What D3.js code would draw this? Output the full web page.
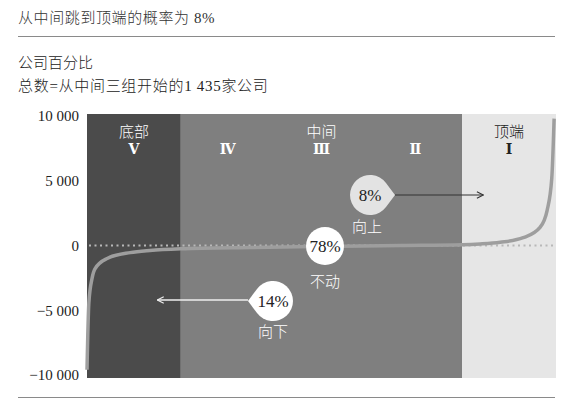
<!DOCTYPE html>
<html><head><meta charset="utf-8">
<script src="https://cdn.jsdelivr.net/npm/d3@7"></script>
<style>body{margin:0;background:#fff}svg{display:block}</style>
</head><body>
<script>
// ---- data ----
const titleText = "从中间跳到顶端的概率为 8%";
const subtitle1 = "公司百分比";
const subtitle2 = "总数=从中间三组开始的1 435家公司";
const yTicks = [10000, 5000, 0, -5000, -10000];
const bandNames = ["底部", "中间", "顶端"];
const bandStarts = [0, 20, 80];
const bandEnds = [20, 80, 100];
const quintiles = ["Ⅴ", "Ⅳ", "Ⅲ", "Ⅱ", "Ⅰ"];
const quintileCenters = [10, 30, 50, 70, 90];
const curvePct = [0, 0.4, 1.1, 1.7, 4.3, 9.2, 13.4, 20, 35, 50, 67, 80, 83.8, 88.1, 93.0, 96.6, 98.1, 99.1, 99.6];
const curveVal = [-9600, -4400, -2500, -1800, -1000, -550, -380, -250, -150, -80, 0, 60, 120, 250, 600, 1400, 2700, 5200, 9800];
const moveLabels = ["向上", "不动", "向下"];
const moveShares = ["8%", "78%", "14%"];

const W = 566, H = 407;
const svg = d3.select("body").append("svg").attr("width", W).attr("height", H);
const serif = "'Liberation Serif','Noto Sans CJK SC',serif";
const cjk = "'Liberation Serif','Noto Sans CJK SC',sans-serif";

const x = d3.scaleLinear().domain([0, 100]).range([87, 556]);
const y = d3.scaleLinear().domain([-10000, 10000]).range([375, 116]);

// header
svg.append("text").attr("x", 18).attr("y", 23).attr("font-family", cjk).attr("font-size", 15)
  .attr("font-weight", 300).attr("letter-spacing", 0.6)
  .attr("fill", "#333").text(titleText);
svg.append("line").attr("x1", 18).attr("x2", 555).attr("y1", 36.5).attr("y2", 36.5)
  .attr("stroke", "#8a8a8a").attr("stroke-width", 1);
svg.append("text").attr("x", 18).attr("y", 68).attr("font-family", cjk).attr("font-size", 15)
  .attr("font-weight", 300).attr("fill", "#222").text(subtitle1);
svg.append("text").attr("x", 18).attr("y", 91).attr("font-family", cjk).attr("font-size", 15)
  .attr("font-weight", 300).attr("letter-spacing", 0.7).attr("fill", "#222").text(subtitle2);

// bands
const bandFill = ["#4b4b4b", "#7f7f7f", "#e6e6e6"];
const plotTop = 114, plotBot = 378;
svg.selectAll("rect.band").data(bandNames).enter().append("rect").attr("class", "band")
  .attr("x", (d, i) => x(bandStarts[i])).attr("width", (d, i) => x(bandEnds[i]) - x(bandStarts[i]))
  .attr("y", plotTop).attr("height", plotBot - plotTop).attr("fill", (d, i) => bandFill[i]);

const bandTextFill = ["#fff", "#fff", "#222"];
svg.selectAll("text.bandName").data(bandNames).enter().append("text").attr("class", "bandName")
  .attr("x", (d, i) => x((bandStarts[i] + bandEnds[i]) / 2)).attr("y", 137)
  .attr("text-anchor", "middle").attr("font-family", cjk).attr("font-size", 15)
  .attr("font-weight", 300)
  .attr("fill", (d, i) => bandTextFill[i]).text(d => d);
svg.selectAll("text.quint").data(quintiles).enter().append("text").attr("class", "quint")
  .attr("x", (d, i) => x(quintileCenters[i])).attr("y", 154)
  .attr("text-anchor", "middle").attr("font-family", "'Liberation Serif','DejaVu Serif',serif")
  .attr("font-size", 14).attr("font-weight", "bold")
  .attr("fill", (d, i) => i === 4 ? "#222" : "#fff").text(d => d);

// y axis
const fmt = v => (v < 0 ? "−" : "") + d3.format(",")(Math.abs(v)).replace(/,/g, " ");
const ax = svg.append("g").attr("transform", "translate(79,0)")
  .call(d3.axisLeft(y).tickValues(yTicks).tickSize(0).tickPadding(0).tickFormat(fmt));
ax.select(".domain").remove();
ax.selectAll("text").attr("font-family", serif).attr("font-size", 15).attr("fill", "#222");

// zero dotted line
svg.append("line").attr("x1", x(0) + 2).attr("x2", x(100)).attr("y1", y(0)).attr("y2", y(0))
  .attr("stroke", "#b8b8b8").attr("stroke-width", 2).attr("stroke-dasharray", "2,3.5");

// curve
const pts = curvePct.map((p, i) => [p, curveVal[i]]);
svg.append("path").datum(pts)
  .attr("d", d3.line().x(d => x(d[0])).y(d => y(d[1])).curve(d3.curveMonotoneX))
  .attr("fill", "none").attr("stroke", "#9e9e9e").attr("stroke-width", 3.5);

// teardrop helper: dir = 1 tip right, -1 tip left
function drop(cx, cy, r, dir) {
  const d = r * 1.25;
  const th = Math.acos(r / d);
  const p = d3.path();
  const tx = cx + dir * d;
  p.moveTo(tx, cy);
  if (dir > 0) {
    p.lineTo(cx + r * Math.cos(th), cy + r * Math.sin(th));
    p.arc(cx, cy, r, th, 2 * Math.PI - th, false);
  } else {
    p.lineTo(cx + r * Math.cos(Math.PI + th), cy + r * Math.sin(Math.PI + th));
    p.arc(cx, cy, r, Math.PI + th, Math.PI - th + 2 * Math.PI, false);
  }
  p.closePath();
  return p;
}

const defs = svg.append("defs");
function marker(id, color) {
  defs.append("marker").attr("id", id).attr("viewBox", "0 0 10 10").attr("refX", 9).attr("refY", 5)
    .attr("markerWidth", 8).attr("markerHeight", 8).attr("orient", "auto-start-reverse")
    .attr("markerUnits", "userSpaceOnUse")
    .append("path").attr("d", "M1,1 L9,5 L1,9").attr("fill", "none").attr("stroke", color).attr("stroke-width", 1.4);
}
marker("arrDark", "#333");
marker("arrLight", "#eee");

// up annotation
const up = { cx: 370, cy: 195, r: 20 };
svg.append("line").attr("x1", up.cx + 25).attr("x2", x(84.5)).attr("y1", up.cy).attr("y2", up.cy)
  .attr("stroke", "#333").attr("stroke-width", 1.2).attr("marker-end", "url(#arrDark)");
svg.append("path").attr("d", drop(up.cx, up.cy, up.r, 1).toString()).attr("fill", "#e3e3e3");
svg.append("text").attr("x", up.cx).attr("y", up.cy + 6).attr("text-anchor", "middle")
  .attr("font-family", serif).attr("font-size", 17).attr("fill", "#222").text(moveShares[0]);
svg.append("text").attr("x", up.cx - 3).attr("y", up.cy + 37).attr("text-anchor", "middle")
  .attr("font-family", cjk).attr("font-size", 15).attr("font-weight", 300).attr("fill", "#fff").text(moveLabels[0]);

// stay
const st = { cx: 325, cy: 246, r: 19 };
svg.append("circle").attr("cx", st.cx).attr("cy", st.cy).attr("r", st.r).attr("fill", "#fff");
svg.append("text").attr("x", st.cx).attr("y", st.cy + 6).attr("text-anchor", "middle")
  .attr("font-family", serif).attr("font-size", 17).attr("fill", "#222").text(moveShares[1]);
svg.append("text").attr("x", st.cx).attr("y", st.cy + 41).attr("text-anchor", "middle")
  .attr("font-family", cjk).attr("font-size", 15).attr("font-weight", 300).attr("fill", "#fff").text(moveLabels[1]);

// down
const dn = { cx: 273, cy: 301, r: 20 };
svg.append("line").attr("x1", dn.cx - 25).attr("x2", x(15)).attr("y1", dn.cy - 1).attr("y2", dn.cy - 1)
  .attr("stroke", "#eee").attr("stroke-width", 1.4).attr("marker-end", "url(#arrLight)");
svg.append("path").attr("d", drop(dn.cx, dn.cy, dn.r, -1).toString()).attr("fill", "#fff");
svg.append("text").attr("x", dn.cx).attr("y", dn.cy + 6).attr("text-anchor", "middle")
  .attr("font-family", serif).attr("font-size", 17).attr("fill", "#222").text(moveShares[2]);
svg.append("text").attr("x", dn.cx).attr("y", dn.cy + 36).attr("text-anchor", "middle")
  .attr("font-family", cjk).attr("font-size", 15).attr("font-weight", 300).attr("fill", "#fff").text(moveLabels[2]);

// bottom rule
svg.append("line").attr("x1", 18).attr("x2", 555).attr("y1", 397.5).attr("y2", 397.5)
  .attr("stroke", "#8a8a8a").attr("stroke-width", 1);
</script>
</body></html>
